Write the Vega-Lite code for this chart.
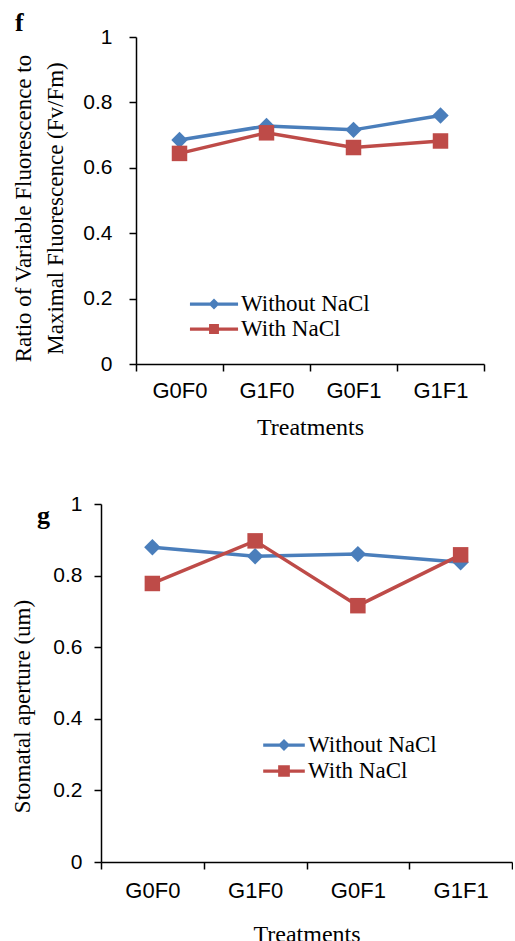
{
  "$schema": "https://vega.github.io/schema/vega-lite/v6.json",
  "padding": {"top": 10, "left": 11, "right": 0, "bottom": 0},
  "background": "white",
  "datasets": {
    "fvfm": [
      {"treatment": "G0F0", "series": "Without NaCl", "value": 0.685},
      {"treatment": "G1F0", "series": "Without NaCl", "value": 0.728},
      {"treatment": "G0F1", "series": "Without NaCl", "value": 0.716},
      {"treatment": "G1F1", "series": "Without NaCl", "value": 0.760},
      {"treatment": "G0F0", "series": "With NaCl", "value": 0.644},
      {"treatment": "G1F0", "series": "With NaCl", "value": 0.707},
      {"treatment": "G0F1", "series": "With NaCl", "value": 0.662},
      {"treatment": "G1F1", "series": "With NaCl", "value": 0.682}
    ],
    "stomatal": [
      {"treatment": "G0F0", "series": "Without NaCl", "value": 0.879},
      {"treatment": "G1F0", "series": "Without NaCl", "value": 0.854},
      {"treatment": "G0F1", "series": "Without NaCl", "value": 0.860},
      {"treatment": "G1F1", "series": "Without NaCl", "value": 0.837},
      {"treatment": "G0F0", "series": "With NaCl", "value": 0.778},
      {"treatment": "G1F0", "series": "With NaCl", "value": 0.897},
      {"treatment": "G0F1", "series": "With NaCl", "value": 0.716},
      {"treatment": "G1F1", "series": "With NaCl", "value": 0.858}
    ]
  },
  "config": {
    "view": {"stroke": null},
    "axis": {
      "grid": false,
      "domainColor": "black",
      "domainWidth": 1.5,
      "tickColor": "black",
      "tickWidth": 1.5,
      "tickSize": 7,
      "labelColor": "black",
      "labelFont": "Liberation Sans",
      "titleFont": "Liberation Serif",
      "titleFontWeight": "normal",
      "titleColor": "black",
      "titleFontSize": 23
    },
    "legend": {
      "labelFont": "Liberation Serif",
      "labelColor": "black",
      "labelFontSize": 23,
      "padding": 0
    },
    "title": {
      "font": "Liberation Serif",
      "fontWeight": "bold",
      "color": "black",
      "anchor": "start",
      "frame": "group",
      "baseline": "alphabetic",
      "offset": 0
    }
  },
  "resolve": {
    "scale": {"color": "independent"},
    "legend": {"color": "independent"}
  },
  "columns": 1,
  "align": "none",
  "spacing": 54,
  "concat": [
    {
      "width": 383,
      "height": 327,
      "title": {"text": "f", "fontSize": 26, "dx": -86, "dy": 14},
      "data": {"name": "fvfm"},
      "encoding": {
        "x": {
          "field": "treatment", "type": "nominal",
          "sort": ["G0F0", "G1F0", "G0F1", "G1F1"],
          "scale": {"paddingInner": 0, "paddingOuter": 0, "range": [35, 383]},
          "axis": {"title": "Treatments", "labelAngle": 0, "labelFontSize": 22, "labelPadding": 9, "titlePadding": 14, "titleFontSize": 24, "tickBand": "extent"}
        },
        "y": {
          "field": "value", "type": "quantitative",
          "scale": {"domain": [0, 1], "nice": false},
          "axis": {"title": ["Ratio of Variable  Fluorescence to", "Maximal Fluorescence (Fv/Fm)"], "offset": -35, "values": [0, 0.2, 0.4, 0.6, 0.8, 1], "format": "~g", "labelFontSize": 21, "labelPadding": 17, "titleX": -101, "titleY": 171, "titleLineHeight": 32}
        },
        "color": {
          "field": "series", "type": "nominal",
          "scale": {"domain": ["Without NaCl", "With NaCl"], "range": ["#4A7EBB", "#BE4B48"]},
          "legend": {
            "title": null, "orient": "none", "legendX": 100, "legendY": 254,
            "symbolSize": 676, "labelOffset": 14, "rowPadding": 0,
            "encode": {"symbols": {"update": {
              "shape": {"signal": "datum.value === 'Without NaCl' ? 'M-1.85,-0.125H1.85V0.125H-1.85Z M0,-0.42L0.42,0L0,0.42L-0.42,0Z' : 'M-1.85,-0.125H1.85V0.125H-1.85Z M-0.38,-0.38H0.38V0.38H-0.38Z'"},
              "fill": {"signal": "datum.value === 'Without NaCl' ? '#4A7EBB' : '#BE4B48'"},
              "size": {"value": 676},
              "stroke": {"value": "transparent"},
              "strokeWidth": {"value": 0},
              "opacity": {"value": 1},
              "fillOpacity": {"value": 1}
            }}}
          }
        }
      },
      "layer": [
        {
          "mark": {"type": "line", "strokeWidth": 3.5}
        },
        {
          "transform": [{"filter": "datum.series === 'Without NaCl'"}],
          "mark": {"type": "point", "shape": "diamond", "filled": true, "opacity": 1, "size": 270}
        },
        {
          "transform": [{"filter": "datum.series === 'With NaCl'"}],
          "mark": {"type": "point", "shape": "square", "filled": true, "opacity": 1, "size": 240}
        }
      ]
    },
    {
      "width": 411,
      "height": 358,
      "title": {"text": "g", "fontSize": 26, "dx": -64, "dy": 40},
      "data": {"name": "stomatal"},
      "encoding": {
        "x": {
          "field": "treatment", "type": "nominal",
          "sort": ["G0F0", "G1F0", "G0F1", "G1F1"],
          "scale": {"paddingInner": 0, "paddingOuter": 0},
          "axis": {"title": "Treatments", "labelAngle": 0, "labelFontSize": 22, "labelPadding": 11, "titlePadding": 21, "titleFontSize": 24, "tickBand": "extent"}
        },
        "y": {
          "field": "value", "type": "quantitative",
          "scale": {"domain": [0, 1], "nice": false},
          "axis": {"title": "Stomatal aperture (um)", "values": [0, 0.2, 0.4, 0.6, 0.8, 1], "format": "~g", "labelFontSize": 21, "labelPadding": 12, "titleX": -67, "titleY": 202}
        },
        "color": {
          "field": "series", "type": "nominal",
          "scale": {"domain": ["Without NaCl", "With NaCl"], "range": ["#4A7EBB", "#BE4B48"]},
          "legend": {
            "title": null, "orient": "none", "legendX": 170, "legendY": 228,
            "symbolSize": 676, "labelOffset": 11, "rowPadding": 1,
            "encode": {"symbols": {"update": {
              "shape": {"signal": "datum.value === 'Without NaCl' ? 'M-1.6,-0.125H1.6V0.125H-1.6Z M0,-0.46L0.46,0L0,0.46L-0.46,0Z' : 'M-1.6,-0.125H1.6V0.125H-1.6Z M-0.45,-0.45H0.45V0.45H-0.45Z'"},
              "fill": {"signal": "datum.value === 'Without NaCl' ? '#4A7EBB' : '#BE4B48'"},
              "size": {"value": 676},
              "stroke": {"value": "transparent"},
              "strokeWidth": {"value": 0},
              "opacity": {"value": 1},
              "fillOpacity": {"value": 1}
            }}}
          }
        }
      },
      "layer": [
        {
          "mark": {"type": "line", "strokeWidth": 3.5}
        },
        {
          "transform": [{"filter": "datum.series === 'Without NaCl'"}],
          "mark": {"type": "point", "shape": "diamond", "filled": true, "opacity": 1, "size": 270}
        },
        {
          "transform": [{"filter": "datum.series === 'With NaCl'"}],
          "mark": {"type": "point", "shape": "square", "filled": true, "opacity": 1, "size": 240}
        }
      ]
    }
  ]
}
